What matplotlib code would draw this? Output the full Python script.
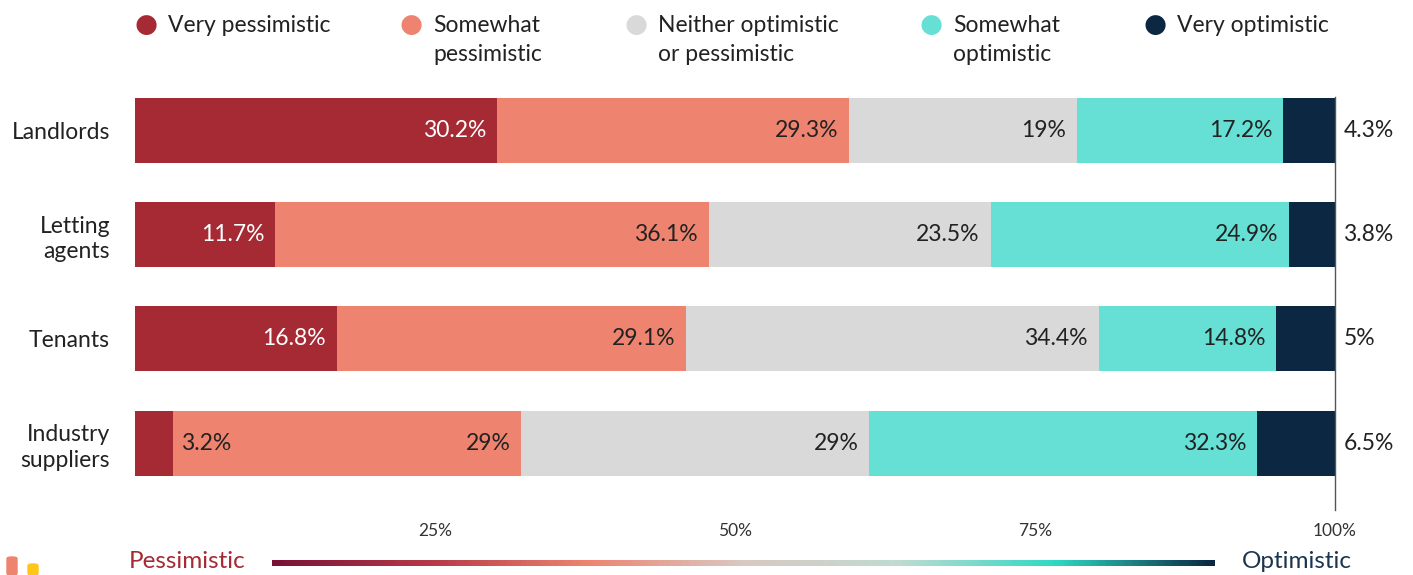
import numpy as np
import matplotlib.pyplot as plt
from matplotlib.colors import LinearSegmentedColormap
from matplotlib.patches import FancyBboxPatch

plt.rcParams["font.family"] = ["Lato", "DejaVu Sans"]

groups = ["Landlords", "Letting\nagents", "Tenants", "Industry\nsuppliers"]
series = ["Very pessimistic", "Somewhat\npessimistic", "Neither optimistic\nor pessimistic",
          "Somewhat\noptimistic", "Very optimistic"]
very_pess = [30.2, 11.7, 16.8, 3.2]
some_pess = [29.3, 36.1, 29.1, 29.0]
neither = [19.0, 23.5, 34.4, 29.0]
some_opt = [17.2, 24.9, 14.8, 32.3]
very_opt = [4.3, 3.8, 5.0, 6.5]
values = [very_pess, some_pess, neither, some_opt, very_opt]
colors = ["#A52A34", "#EE8470", "#D9D9D9", "#66E0D4", "#0B2741"]
ticks = [25, 50, 75, 100]

fig = plt.figure(figsize=(14.13, 5.75), dpi=100)
W, H = 1413, 575
ax = fig.add_axes([135 / W, 1 - 510 / H, 1200 / W, 413 / H])

y = np.arange(len(groups))
left = np.zeros(len(groups))
for si, (vals, col) in enumerate(zip(values, colors)):
    vals = np.array(vals)
    ax.barh(y, vals, left=left, height=0.623, color=col, edgecolor="none")
    for gi, v in enumerate(vals):
        end = left[gi] + v
        label = f"{v:g}%"
        if si == 4:
            ax.text(100.7, gi, label, va="center", ha="left", fontsize=16.5, color="#222222")
        elif v < 5:
            ax.text(end + 0.6, gi, label, va="center", ha="left", fontsize=16.5, color="#222222")
        else:
            ax.text(end - 0.9, gi, label, va="center", ha="right", fontsize=16.5,
                    color="white" if si == 0 else "#222222")
    left += vals

ax.set_xlim(0, 100)
ax.set_ylim(3.64, -0.32)
ax.set_yticks(y)
ax.set_yticklabels(groups, fontsize=16.5, color="#222222", linespacing=1.25)
ax.set_xticks(ticks)
ax.set_xticklabels([f"{t}%" for t in ticks], fontsize=12.5, color="#333333")
ax.tick_params(axis="both", length=0)
ax.tick_params(axis="x", pad=9)
ax.tick_params(axis="y", pad=18)
for s in ["top", "left", "bottom"]:
    ax.spines[s].set_visible(False)
ax.spines["right"].set_color("#555555")
ax.spines["right"].set_linewidth(1)

# legend
leg_x = [146, 411, 636, 931, 1155]
for lx, lab, col in zip(leg_x, series, colors):
    fig.text(lx / W, 1 - 25 / H, "\u25CF", color=col, fontsize=19, ha="center", va="center",
             family="DejaVu Sans")
    fig.text((lx + 22) / W, 1 - 15 / H, lab, fontsize=16.5, color="#222222", ha="left", va="top",
             linespacing=1.45)

# gradient scale
grad_ax = fig.add_axes([272 / W, 1 - 566 / H, 943 / W, 6 / H])
cmap = LinearSegmentedColormap.from_list(
    "po", ["#7A1236", "#B53A48", "#EE8470", "#D9C9C2", "#BFDCD2", "#2FD8C4", "#0B2741"])
grad_ax.imshow(np.linspace(0, 1, 400)[None, :], aspect="auto", cmap=cmap)
grad_ax.axis("off")
fig.text(246 / W, 1 - 562 / H, "Pessimistic", color="#A52A34", fontsize=17.5, ha="right", va="center")
fig.text(1242 / W, 1 - 562 / H, "Optimistic", color="#1B3550", fontsize=17.5, ha="left", va="center")

# logo marks
fig.patches.append(FancyBboxPatch((7 / W, 0), 10 / W, 18 / H, boxstyle="round,pad=0,rounding_size=0.003",
                                  transform=fig.transFigure, color="#EE8470"))
fig.patches.append(FancyBboxPatch((28 / W, 0), 10 / W, 11 / H, boxstyle="round,pad=0,rounding_size=0.003",
                                  transform=fig.transFigure, color="#FFC61A"))

fig.savefig("out.png", dpi=100)
